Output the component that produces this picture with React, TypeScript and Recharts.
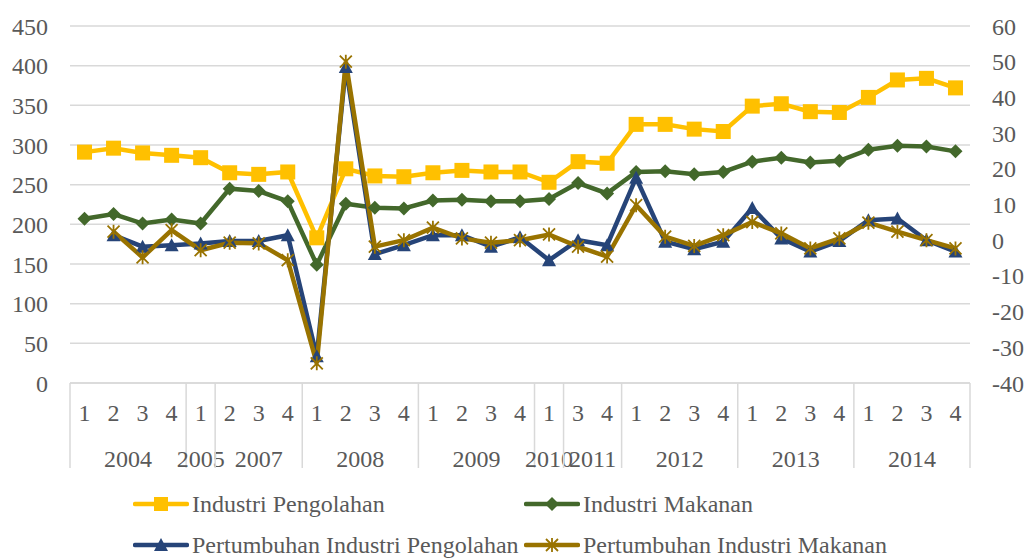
import React from 'react';
import { LineChart, Line, XAxis, YAxis, CartesianGrid } from 'recharts';

// kuartal per tahun (sumbu X dua tingkat)
const quarters = ['1', '2', '3', '4', '1', '2', '3', '4', '1', '2', '3', '4', '1', '2', '3', '4', '1', '3', '4', '1', '2', '3', '4', '1', '2', '3', '4', '1', '2', '3', '4'];
const years = ['2004', '2005', '2007', '2008', '2009', '2010', '2011', '2012', '2013', '2014'];
const yearCounts = [4, 1, 3, 4, 4, 1, 2, 4, 4, 4];

// sumbu kiri
const industriPengolahan = [291, 296, 290, 287, 284, 265, 263, 266, 183, 270, 261, 260, 265, 268, 266, 266, 253, 279, 277, 326, 326, 320, 317, 349, 352, 342, 341, 360, 382, 384, 372];
const industriMakanan = [207, 213, 201, 206, 201, 245, 242, 229, 149, 226, 221, 220, 230, 231, 229, 229, 232, 252, 239, 266, 267, 263, 266, 279, 284, 278, 280, 294, 299, 298, 292];

// sumbu kanan (%)
const pertumbuhanPengolahan = [null, 1.4, -1.8, -1.4, -0.9, -0.2, -0.2, 1.4, -32.5, 48.5, -3.9, -1.4, 1.4, 1.4, -1.8, 0.8, -5.6, 0, -1.4, 17.5, -0.4, -2.5, -0.4, 9, 0.5, -3.2, -0.2, 5.6, 6.1, 0, -3.2];
const pertumbuhanMakanan = [null, 2.4, -4.8, 2.8, -2.8, -0.7, -0.9, -5.6, -34.5, 50, -1.8, 0, 3.5, 0.5, -0.7, 0, 1.6, -1.8, -4.6, 9.8, 1, -1.6, 1.4, 5.1, 1.9, -2.3, 0.5, 4.9, 2.4, 0, -2.3];

const leftTicks = [0, 50, 100, 150, 200, 250, 300, 350, 400, 450];
const rightTicks = [-40, -30, -20, -10, 0, 10, 20, 30, 40, 50, 60];

const data = quarters.map((q, i) => ({
  q: q + '_' + i,
  label: q,
  pengolahan: industriPengolahan[i],
  makanan: industriMakanan[i],
  gPengolahan: pertumbuhanPengolahan[i],
  gMakanan: pertumbuhanMakanan[i],
}));

const groupStart: Record<number, number> = {};
let acc = 0;
yearCounts.forEach((n, gi) => {
  groupStart[acc] = gi;
  acc += n;
});

const YELLOW = '#FFC000';
const GREEN = '#43682B';
const BLUE = '#264478';
const GOLD = '#997300';
const TEXT = '#595959';
const GRID = '#d9d9d9';
const FONT = '"Liberation Serif", "Times New Roman", serif';

const PLOT_W = 900;
const BAND = PLOT_W / quarters.length;

const tickStyle = { fill: TEXT, fontSize: 24, fontFamily: FONT };

const renderTick = (props: any) => {
  const { x, y, payload } = props;
  const i = payload.index ?? props.index;
  const gi = groupStart[i];
  return (
    <g>
      <text x={x} y={y + 29} dy="0.355em" textAnchor="middle" {...tickStyle}>{data[i].label}</text>
      {gi !== undefined && (
        <g>
          <line x1={x - BAND / 2} x2={x - BAND / 2} y1={y} y2={y + 85} stroke={GRID} strokeWidth={1.5} />
          <text x={x - BAND / 2 + (yearCounts[gi] * BAND) / 2} y={y + 75} dy="0.355em" textAnchor="middle" {...tickStyle}>{years[gi]}</text>
        </g>
      )}
      {i === quarters.length - 1 && (
        <line x1={x + BAND / 2} x2={x + BAND / 2} y1={y} y2={y + 85} stroke={GRID} strokeWidth={1.5} />
      )}
    </g>
  );
};

const SquareDot = (p: any) => {
  if (p.cx == null || p.cy == null || p.value == null) return <g key={p.key} />;
  return <rect key={p.key} x={p.cx - 7.5} y={p.cy - 7.5} width={15} height={15} fill={YELLOW} />;
};
const DiamondDot = (p: any) => {
  if (p.cx == null || p.cy == null || p.value == null) return <g key={p.key} />;
  const { cx, cy } = p;
  return <path key={p.key} d={`M${cx},${cy - 7} L${cx + 7},${cy} L${cx},${cy + 7} L${cx - 7},${cy} Z`} fill={GREEN} />;
};
const TriangleDot = (p: any) => {
  if (p.cx == null || p.cy == null || p.value == null) return <g key={p.key} />;
  const { cx, cy } = p;
  return <path key={p.key} d={`M${cx},${cy - 7} L${cx + 7},${cy + 6} L${cx - 7},${cy + 6} Z`} fill={BLUE} />;
};
const StarDot = (p: any) => {
  if (p.cx == null || p.cy == null || p.value == null) return <g key={p.key} />;
  const { cx, cy } = p;
  return (
    <path key={p.key} d={`M${cx - 6},${cy - 6} L${cx + 6},${cy + 6} M${cx + 6},${cy - 6} L${cx - 6},${cy + 6} M${cx},${cy - 7} L${cx},${cy + 7}`} stroke={GOLD} strokeWidth={1.8} fill="none" />
  );
};

const legendItems = [
  { name: 'Industri Pengolahan', color: YELLOW, marker: 'square', left: 133, top: 504 },
  { name: 'Industri Makanan', color: GREEN, marker: 'diamond', left: 524, top: 504 },
  { name: 'Pertumbuhan Industri Pengolahan', color: BLUE, marker: 'triangle', left: 133, top: 545 },
  { name: 'Pertumbuhan Industri Makanan', color: GOLD, marker: 'star', left: 524, top: 545 },
];

const LegendIcon = ({ color, marker }: { color: string; marker: string }) => (
  <svg width={56} height={20} style={{ display: 'block' }}>
    <line x1={2} x2={54} y1={10} y2={10} stroke={color} strokeWidth={4.5} strokeLinecap="round" />
    {marker === 'square' && <rect x={21} y={3} width={14} height={14} fill={color} />}
    {marker === 'diamond' && <path d="M28,3 L35,10 L28,17 L21,10 Z" fill={color} />}
    {marker === 'triangle' && <path d="M28,3 L35,16 L21,16 Z" fill={color} />}
    {marker === 'star' && <path d="M22,4 L34,16 M34,4 L22,16 M28,3 L28,17" stroke={color} strokeWidth={1.8} />}
  </svg>
);

export default function App() {
  return (
    <div style={{ position: 'absolute', left: 0, top: 0, width: 1030, height: 558, background: '#fff', fontFamily: FONT }}>
      <LineChart width={1030} height={558} data={data} margin={{ top: 26, right: 0, bottom: 90, left: 0 }}>
        <CartesianGrid vertical={false} stroke={GRID} strokeWidth={1.5} yAxisId="left" />
        <XAxis
          dataKey="q"
          height={85}
          interval={0}
          padding={{ left: BAND / 2, right: BAND / 2 }}
          tickLine={false}
          tickSize={0}
          tickMargin={0}
          axisLine={{ stroke: GRID, strokeWidth: 1.5 }}
          tick={renderTick}
        />
        <YAxis
          yAxisId="left"
          domain={[0, 450]}
          ticks={leftTicks}
          width={70}
          axisLine={false}
          tickLine={false}
          tickMargin={16}
          tick={tickStyle}
        />
        <YAxis
          yAxisId="right"
          orientation="right"
          domain={[-40, 60]}
          ticks={rightTicks}
          width={60}
          axisLine={false}
          tickLine={false}
          tickMargin={16}
          tick={tickStyle}
        />
        <Line yAxisId="left" dataKey="pengolahan" stroke={YELLOW} strokeWidth={4.5} dot={SquareDot} activeDot={false} isAnimationActive={false} />
        <Line yAxisId="left" dataKey="makanan" stroke={GREEN} strokeWidth={4.5} dot={DiamondDot} activeDot={false} isAnimationActive={false} />
        <Line yAxisId="right" dataKey="gPengolahan" stroke={BLUE} strokeWidth={4.5} dot={TriangleDot} activeDot={false} isAnimationActive={false} />
        <Line yAxisId="right" dataKey="gMakanan" stroke={GOLD} strokeWidth={4.5} dot={StarDot} activeDot={false} isAnimationActive={false} />
      </LineChart>
      {legendItems.map((it) => (
        <div
          key={it.name}
          style={{ position: 'absolute', left: it.left, top: it.top - 14, height: 28, display: 'flex', alignItems: 'center', whiteSpace: 'nowrap' }}
        >
          <LegendIcon color={it.color} marker={it.marker} />
          <span style={{ fontSize: 24, color: TEXT, marginLeft: 3, lineHeight: '28px' }}>{it.name}</span>
        </div>
      ))}
    </div>
  );
}
